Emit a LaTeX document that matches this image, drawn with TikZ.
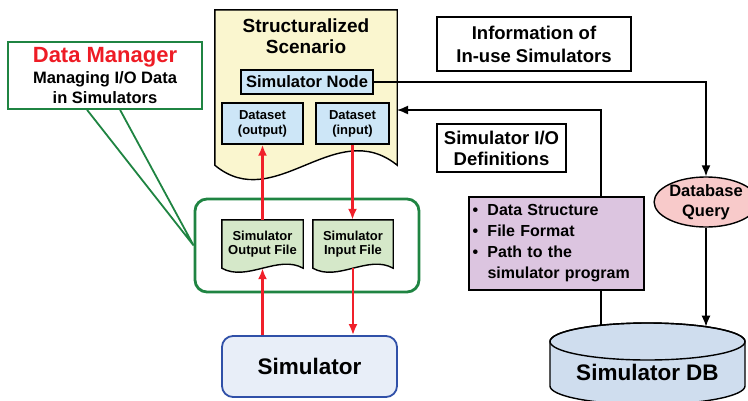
\documentclass[tikz,border=0pt]{standalone}
\usepackage{fontspec}
\setmainfont{Liberation Sans}
\usetikzlibrary{arrows.meta,shapes,calc,backgrounds}
\definecolor{scenfill}{HTML}{FAF6CF}
\definecolor{nodeblue}{HTML}{CDE6F7}
\definecolor{filegreen}{HTML}{D5E8C9}
\definecolor{mgrgreen}{HTML}{1F8442}
\definecolor{dmred}{HTML}{EE1C25}
\definecolor{arrowred}{HTML}{F0202A}
\definecolor{defpurple}{HTML}{DCC5E0}
\definecolor{querypink}{HTML}{F8CACA}
\definecolor{dbblue}{HTML}{CFDDEE}
\definecolor{simfill}{HTML}{E8EEF8}
\definecolor{simblue}{HTML}{3050A8}
\newcommand{\fsz}[2]{\fontsize{#1}{#2}\selectfont\bfseries}
\tikzstyle{infobox}=[draw,line width=1.4pt,fill=white,align=center,inner sep=0pt]
\tikzstyle{blueitem}=[draw,line width=1.3pt,fill=nodeblue,align=center,inner sep=0pt]
\tikzstyle{filedoc}=[align=center,inner sep=0pt,minimum height=48pt]
\tikzstyle{docline}=[draw,line width=1.4pt]
\tikzstyle{redarrow}=[draw=arrowred,line width=2.3pt,-{Latex[length=11pt,width=9pt]}]
\tikzstyle{blkarrow}=[draw,line width=1.5pt,-{Latex[length=11pt,width=9pt]}]
\tikzstyle{callout}=[draw=mgrgreen,line width=1.8pt]

\begin{document}
\begin{tikzpicture}[x=1pt,y=-1pt]
    \useasboundingbox (0,0) rectangle (748,400);
    % Data manager box with its callout
    \node[draw=mgrgreen, line width=2.8pt, rounded corners=12pt,
          minimum width=224pt, minimum height=93pt] (mgr) at (307,245.5) {};
    \node[callout, fill=white, minimum width=194pt, minimum height=67pt,
          align=center, inner sep=0pt, font=\fsz{16.5}{20}] (dm) at (105,75.5)
        {{\fsz{22}{24}\color{dmred}Data Manager}\\[1pt]Managing I/O Data\\in Simulators};
    \draw[callout] ($(dm.south west)+(80,0)$) -- (mgr.west) -- ($(dm.south west)+(113,0)$);

    % Scenario document and the two files
    \node[minimum width=182pt, minimum height=155pt, inner sep=0pt] (scen) at (306,87.5) {};
    \node[align=center, font=\fsz{19}{21}] (scentitle) at (306,36) {Structuralized\\Scenario};
    \node[blueitem, minimum width=132pt, minimum height=24pt, font=\fsz{16.5}{18}] (simnode) at (307,82) {Simulator Node};
    \node[blueitem, minimum width=81pt, minimum height=41pt, font=\fsz{13}{15}] (dsout) at (262.5,123.5) {Dataset\\(output)};
    \node[blueitem, minimum width=73pt, minimum height=41pt, font=\fsz{13}{15}] (dsin) at (352.5,123.5) {Dataset\\(input)};
    \node[filedoc, minimum width=81pt, font=\fsz{13}{14.5}] (outf) at (262.5,244) {Simulator\\Output File};
    \node[filedoc, minimum width=80pt, font=\fsz{13}{14.5}] (inf) at (353,244) {Simulator\\Input File};
    \begin{scope}[on background layer]
        \path[docline, fill=scenfill] (scen.south west) -- (scen.north west) -- (scen.north east)
            -- (scen.south east) .. controls +(-62,-50) and +(60,50) .. (scen.south west) -- cycle;
        \foreach \name in {outf,inf}
            \path[docline, fill=filegreen] (\name.south west) -- (\name.north west) -- (\name.north east)
                -- (\name.south east) .. controls +(-25,-14) and +(25,14) .. (\name.south west) -- cycle;
    \end{scope}

    % Simulator
    \node[draw=simblue, line width=1.8pt, fill=simfill, rounded corners=11pt,
          minimum width=175pt, minimum height=61pt, font=\fsz{22.5}{25}] (sim) at (309.5,366.5) {Simulator};

    % red data flows
    \path[redarrow] (outf.north) -- (dsout.south);
    \path[redarrow] (dsin.south) -- (dsin.south |- inf.north);
    \path[redarrow] (sim.north -| outf) -- (outf.south);
    \path[redarrow] (inf.south) -- (inf.south |- sim.north);

    % labels on the right
    \node[infobox, minimum width=194pt, minimum height=54pt, font=\fsz{18.5}{23}] (info) at (534,44) {Information of\\In-use Simulators};
    \node[infobox, minimum width=129pt, minimum height=48pt, font=\fsz{18.5}{21}] (iodef) at (501.5,148) {Simulator I/O\\Definitions};

    % Simulator DB
    \begin{scope}
        \clip (0,0) rectangle (748,400);
        \path[docline, fill=dbblue] (550,341.5) -- (550,386)
            arc[start angle=180, end angle=0, x radius=97.5, y radius=18.5] -- (745,341.5)
            arc[start angle=0, end angle=-180, x radius=97.5, y radius=18.5] -- cycle;
        \draw[line width=1.4pt] (647.5,341.5) ellipse [x radius=97.5, y radius=18.5];
    \end{scope}
    \node[font=\fsz{22.5}{25}, inner sep=0pt] (db) at (647.5,372) {Simulator DB};
    \coordinate (dbq) at (706,326.7);
    \coordinate (dbd) at (601,325.2);
    \coordinate (scenin) at (397,110);

    \node[ellipse, draw, line width=1.4pt, fill=querypink, minimum width=82pt, minimum height=50pt,
          inner sep=0pt, align=center, font=\fsz{16.5}{20}] (query) at (706,202) {Database\\Query};

    % query and definition lines
    \path[blkarrow] (simnode.east) -| (query.north);
    \path[blkarrow] (query.south) -- (dbq);
    \path[blkarrow] (dbd) |- (scenin);
    \node[draw, line width=1.4pt, fill=defpurple, minimum width=175pt, minimum height=93pt,
          inner sep=0pt, text width=168pt, align=left, font=\fsz{16}{21}] (defs) at (556.5,243.5)
        {\makebox[15pt][l]{\textbullet}Data Structure\\
         \makebox[15pt][l]{\textbullet}File Format\\
         \makebox[15pt][l]{\textbullet}Path to the\\
         \hspace*{15pt}simulator program};
\end{tikzpicture}
\end{document}
